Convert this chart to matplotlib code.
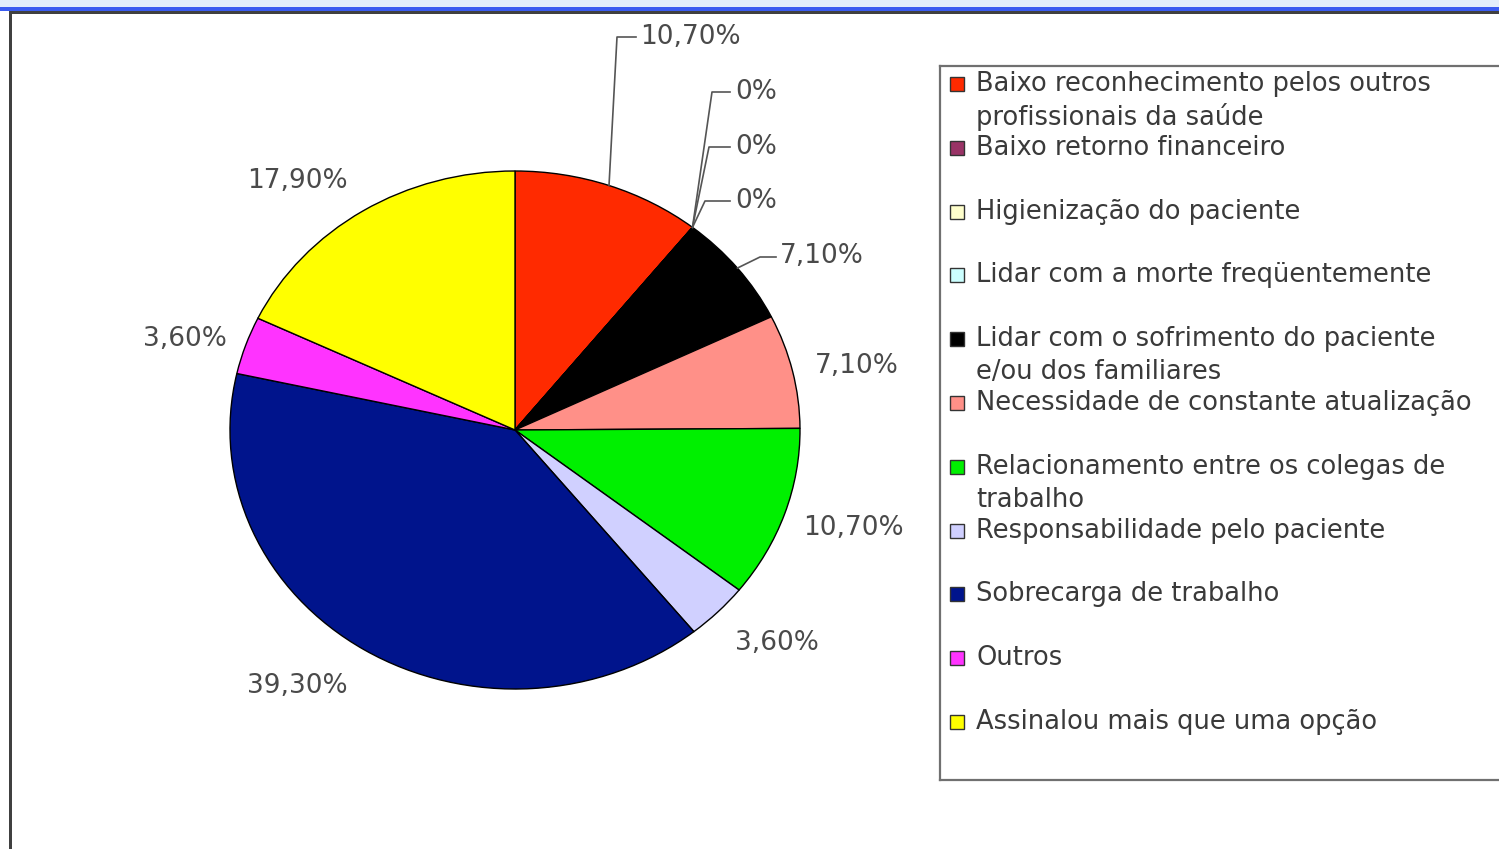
import matplotlib
matplotlib.use("Agg")
import numpy as np
import matplotlib.pyplot as plt
from matplotlib.patches import Rectangle

categories = [
    "Baixo reconhecimento pelos outros\nprofissionais da saúde",
    "Baixo retorno financeiro",
    "Higienização do paciente",
    "Lidar com a morte freqüentemente",
    "Lidar com o sofrimento do paciente\ne/ou dos familiares",
    "Necessidade de constante atualização",
    "Relacionamento entre os colegas de\ntrabalho",
    "Responsabilidade pelo paciente",
    "Sobrecarga de trabalho",
    "Outros",
    "Assinalou mais que uma opção",
]
percent = [10.7, 0, 0, 0, 7.1, 7.1, 10.7, 3.6, 39.3, 3.6, 17.9]
value_labels = ["10,70%", "0%", "0%", "0%", "7,10%", "7,10%", "10,70%",
                "3,60%", "39,30%", "3,60%", "17,90%"]
colors = ["#FF2A00", "#993366", "#FFFFCC", "#CCFFFF", "#000000", "#FF9088",
          "#00F000", "#D0D0FF", "#00148C", "#FF33FF", "#FFFF00"]

# layout: where the labels sit (figure pixels, text left edge / middle)
W, H = 1499, 849
cx, cy, rx, ry = 515, 430, 285, 259
label_xy = [(640, 37), (735, 92), (735, 147), (735, 201), (780, 256),
            (815, 366), (803, 528), (735, 643), (247, 686), (143, 339),
            (247, 181)]
# leader line elbows (None = no leader)
leader = [[(617, 37), (636, 37)],
          [(712, 92), (730, 92)],
          [(709, 147), (730, 147)],
          [(705, 201), (730, 201)],
          [(760, 257), (776, 257)],
          None, None, None, None, None, None]

fig = plt.figure(figsize=(W / 100, H / 100), dpi=100)
fig.patch.set_facecolor("white")


def px(x, y):
    return (x - cx) / rx, (cy - y) / ry


ax = fig.add_axes([(cx - rx) / W, (H - cy - ry) / H, 2 * rx / W, 2 * ry / H])
wedges, _ = ax.pie(percent, colors=colors, startangle=90, counterclock=False,
                   radius=1, wedgeprops=dict(edgecolor="black", linewidth=1))
ax.set_aspect("auto")
ax.set_xlim(-1, 1)
ax.set_ylim(-1, 1)
ax.axis("off")

for w, lab, (lx, ly), ld in zip(wedges, value_labels, label_xy, leader):
    ax.text(*px(lx, ly), lab, ha="left", va="center", fontsize=19,
            color="#4a4a4a", clip_on=False)
    if ld is not None:
        a = np.deg2rad((w.theta1 + w.theta2) / 2)
        pts = [(np.cos(a), np.sin(a))] + [px(*p) for p in ld]
        ax.plot([p[0] for p in pts], [p[1] for p in pts], color="#555555",
                lw=1.2, clip_on=False)

# legend box
lx0, ly0, ly1 = 940, 66, 780
lg = fig.add_axes([lx0 / W, (H - ly1) / H, (1530 - lx0) / W, (ly1 - ly0) / H])
lg.set_xlim(0, 1530 - lx0)
lg.set_ylim(ly1 - ly0, 0)
lg.set_xticks([])
lg.set_yticks([])
for s in lg.spines.values():
    s.set_color("#707070")
    s.set_linewidth(1.6)

pitch = 63.8
for i, (cat, col) in enumerate(zip(categories, colors)):
    y = 18 + i * pitch
    lg.add_patch(Rectangle((10, y - 7), 14, 14, facecolor=col,
                           edgecolor="#333333", lw=1))
    for j, line in enumerate(cat.split("\n")):
        lg.text(36, y + j * 33, line, ha="left", va="center", fontsize=18.5,
                color="#3a3a3a")

# window frame
fig.add_artist(Rectangle((0, 1 - 7 / H), 1, 7 / H, transform=fig.transFigure,
                         facecolor="#E2EEFB", edgecolor="none"))
fig.add_artist(Rectangle((0, 1 - 11 / H), 1, 4 / H, transform=fig.transFigure,
                         facecolor="#3A5CF0", edgecolor="none"))
fig.add_artist(Rectangle((9 / W, 1 - 14 / H), 1, 3 / H, transform=fig.transFigure,
                         facecolor="#404040", edgecolor="none"))
fig.add_artist(Rectangle((9 / W, 0), 3 / W, 1 - 11 / H, transform=fig.transFigure,
                         facecolor="#404040", edgecolor="none"))

fig.savefig("out.png", dpi=100)
